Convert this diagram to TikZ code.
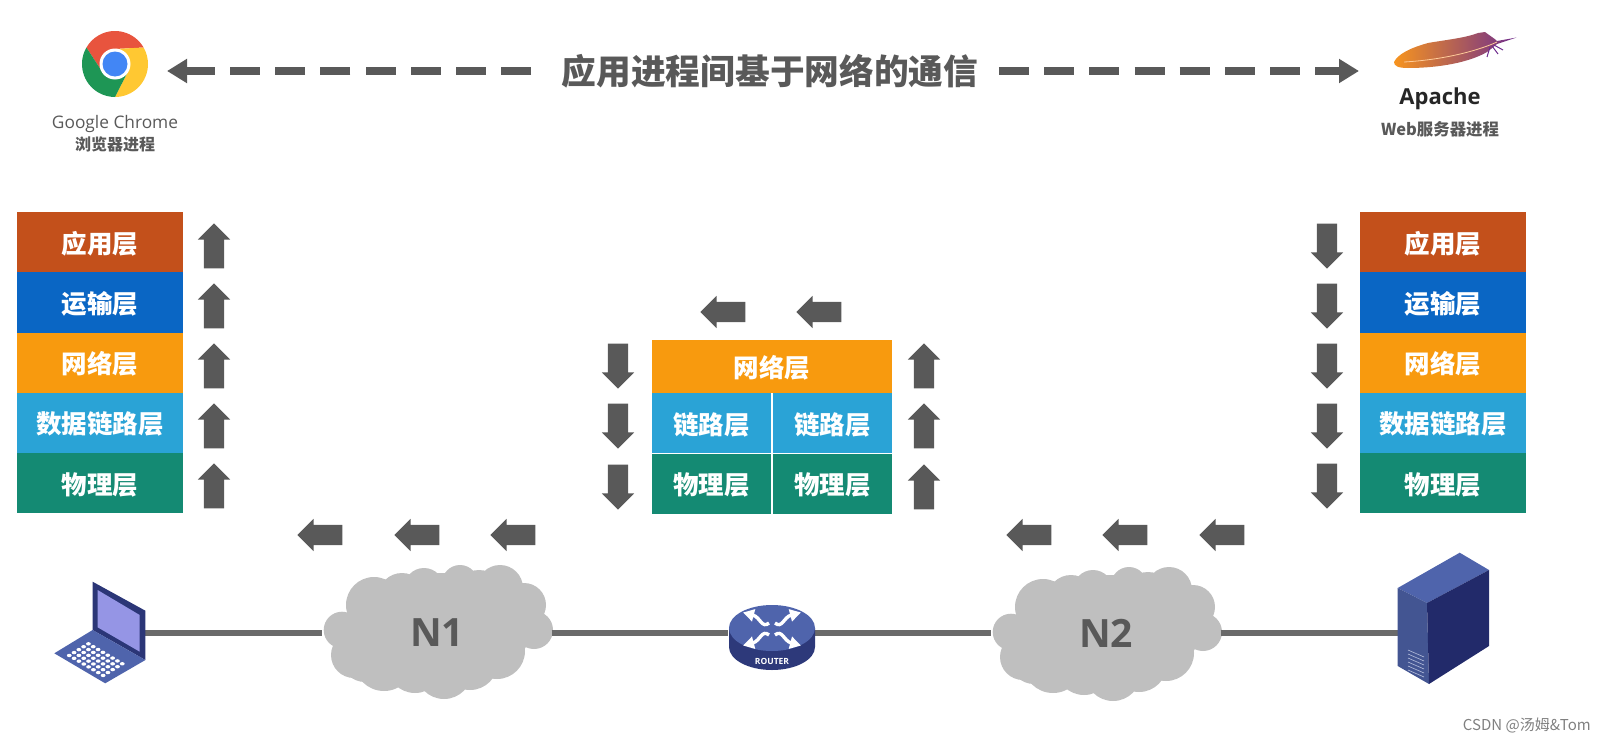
\documentclass[tikz,border=0pt]{standalone}
\usepackage{fontspec}
\usepackage{tikz}
\usetikzlibrary{shapes, shapes.arrows, arrows.meta, positioning, calc, matrix}
\setsansfont{Open Sans}
\newfontfamily\cjk{Noto Sans CJK SC}
\definecolor{apporange}{RGB}{195, 80, 27}
\definecolor{transblue}{RGB}{10, 102, 196}
\definecolor{netorange}{RGB}{248, 154, 14}
\definecolor{linkblue}{RGB}{42, 163, 214}
\definecolor{phyteal}{RGB}{20, 138, 115}
\definecolor{arrowgray}{RGB}{89, 89, 89}
\definecolor{cloudgray}{RGB}{191, 191, 191}
\definecolor{iconblue}{RGB}{79, 100, 172}
\definecolor{icondark}{RGB}{34, 42, 106}
\definecolor{chromered}{RGB}{232, 84, 62}
\definecolor{chromeyellow}{RGB}{255, 200, 50}
\definecolor{chromegreen}{RGB}{30, 150, 85}
\definecolor{chromeblue}{RGB}{66, 134, 245}
\definecolor{featherorange}{RGB}{247, 148, 30}
\definecolor{featherred}{RGB}{216, 48, 58}
\definecolor{featherpurple}{RGB}{110, 44, 142}
\tikzset{
  cellfont/.style={font=\cjk\bfseries\fontsize{25.5}{25.5}\selectfont, text=white, inner sep=0pt, text height=22pt, text depth=0pt},
  appcell/.style={rectangle, fill=apporange, minimum width=166pt, minimum height=60.2pt, cellfont},
  transcell/.style={appcell, fill=transblue},
  netcell/.style={appcell, fill=netorange},
  linkcell/.style={appcell, fill=linkblue},
  phycell/.style={appcell, fill=phyteal},
  blockbase/.style={single arrow, fill=arrowgray, minimum height=45pt, inner sep=10pt, single arrow head extend=6pt},
  upblock/.style={blockbase, shape border rotate=90, yshift=-5pt},
  downblock/.style={blockbase, shape border rotate=270, yshift=5pt},
  leftblock/.style={blockbase, shape border rotate=180, xshift=5pt},
  dasharrow/.style={line width=8pt, arrowgray, dash pattern=on 30pt off 15.2pt, -{Triangle[length=20pt, width=23pt]}},
  wire/.style={line width=5.5pt, draw=arrowgray!90},
  netcloud/.style={rectangle, minimum width=229pt, minimum height=135pt, inner sep=0pt, text=arrowgray, font=\sffamily\bfseries\fontsize{39}{39}\selectfont},
  iconbox/.style={rectangle, minimum width=90pt, minimum height=100pt, inner sep=0pt},
  smalltext/.style={text=arrowgray, inner sep=0pt, font=\cjk\bfseries\fontsize{16}{16}\selectfont},
  cloudblob/.pic={
    \fill[cloudgray] (0,-2) circle[x radius=93, y radius=57];
    \foreach \cx/\cy/\cr in {-95/-2/18.3, -63/-27/28, -35/-35/24, -13/-44/20, 23/-49/18, 42/-38/24, 63/-44/23, 87/-27/22, 97/-2/19, 60/19/28, 7/39/28, 33/30/28, -53/29/30, -22/33/28, -72/26/24, -83/23/23}
      \fill[cloudgray] (\cx,\cy) circle[radius=\cr];
  }
}
\begin{document}
\begin{tikzpicture}[x=1pt, y=-1pt]
    \useasboundingbox (0,0) rectangle (1606,744);
    % Title and the two dashed arrows
    \node[inner xsep=30.5pt, inner ysep=0pt, text=arrowgray, font=\cjk\bfseries\fontsize{34.7}{34.7}\selectfont] (title) at (770,71) {应用进程间基于网络的通信};
    \coordinate (chromeend) at (167,71);
    \coordinate (apacheend) at (1359,71);
    \draw[dasharrow] (title.west) -- (chromeend);
    \draw[dasharrow, shorten <=-10pt] (title.east) -- (apacheend);
    % Chrome logo
    \begin{scope}[shift={(115,64)}, yscale=-1]
        \fill[chromered] (30:33) arc[start angle=30, end angle=150, radius=33] -- (210:15) -- (90:15) -- cycle;
        \fill[chromeyellow] (270:33) arc[start angle=270, end angle=390, radius=33] -- (90:15) -- (330:15) -- cycle;
        \fill[chromegreen] (150:33) arc[start angle=150, end angle=270, radius=33] -- (330:15) -- (210:15) -- cycle;
        \fill[white] (0,0) circle[radius=15.5];
        \fill[chromeblue] (0,0) circle[radius=12.5];
    \end{scope}
    \node[smalltext, font=\sffamily\fontsize{17.3}{17.3}\selectfont] (chromename) at (115,124) {Google Chrome};
    \node[smalltext] (chromeproc) at (115,144) {浏览器进程};
    % Apache feather
    \shade[left color=featherorange, middle color=featherred, right color=featherpurple]
        (1394,62) .. controls (1398,54) and (1410,48) .. (1428,43) .. controls (1445,40) and (1465,38) .. (1478,33)
        -- (1485,32) .. controls (1490,36) and (1494,38) .. (1497,41) -- (1516.7,37.5) -- (1497,44)
        .. controls (1492,48) and (1490,50) .. (1487,52) .. controls (1470,62) and (1440,68) .. (1408,68)
        .. controls (1398,68) and (1394,66) .. (1394,62) -- cycle;
    \draw[white!60!orange, line width=0.8pt] (1404,62) .. controls (1440,60) and (1475,52) .. (1497,42);
    \draw[featherpurple, line width=1pt] (1490,47) -- (1487,57) (1494,45) -- (1503,50) (1492,46) -- (1498,54);
    \node[text=black!85, inner sep=0pt, font=\sffamily\bfseries\fontsize{22}{22}\selectfont] (apachename) at (1440,99) {Apache};
    \node[smalltext, font=\cjk\bfseries\fontsize{16.4}{16.4}\selectfont] (apacheproc) at (1440,129) {Web服务器进程};
    % Left and right protocol stacks
    \matrix[matrix of nodes, anchor=north west, row sep=0pt, inner sep=0pt] (L) at (17,212) {
        |[appcell]| 应用层 \\
        |[transcell]| 运输层 \\
        |[netcell]| 网络层 \\
        |[linkcell]| 数据链路层 \\
        |[phycell]| 物理层 \\
    };
    \matrix[matrix of nodes, anchor=north west, row sep=0pt, inner sep=0pt] (R) at (1360,212) {
        |[appcell]| 应用层 \\
        |[transcell]| 运输层 \\
        |[netcell]| 网络层 \\
        |[linkcell]| 数据链路层 \\
        |[phycell]| 物理层 \\
    };
    % Router stack
    \node[netcell, minimum width=240pt, minimum height=53pt, anchor=north west] (mnet) at (652,340) {网络层};
    \node[linkcell, minimum width=118.5pt, anchor=north west] (mlinkl) at (652,393) {链路层};
    \node[linkcell, minimum width=118.5pt, anchor=north east] (mlinkr) at (892,393) {链路层};
    \node[phycell, minimum width=118.5pt, below=0pt of mlinkl] (mphyl) {物理层};
    \node[phycell, minimum width=118.5pt, below=0pt of mlinkr] (mphyr) {物理层};
    % Block arrows
    \foreach \y [count=\i] in {246,306,366,426,486} {
        \node[upblock] (lup\i) at (214,\y) {};
        \node[downblock] (rdown\i) at (1327,\y) {};
    }
    \foreach \y [count=\i] in {366,426,487} {
        \node[downblock] (mdown\i) at (618,\y) {};
        \node[upblock] (mup\i) at (924,\y) {};
    }
    \foreach \x [count=\i] in {723,819} \node[leftblock] (mleft\i) at (\x,312) {};
    \foreach \x [count=\i] in {320,417,513,1029,1125,1222} \node[leftblock] (bleft\i) at (\x,535) {};
    % Network line
    \pic at (437,632) {cloudblob};
    \pic at (1106,634) {cloudblob};
    \node[iconbox] (laptop) at (100,633) {};
    \node[netcloud] (N1) at (437,633) {N1};
    \node[iconbox, minimum width=86pt, minimum height=64pt] (router) at (771,633) {};
    \node[netcloud] (N2) at (1106,633) {N2};
    \node[iconbox] (server) at (1443,633) {};
    \draw[wire] (laptop) -- (N1);
    \draw[wire] (N1) -- (router);
    \draw[wire] (router) -- (N2);
    \draw[wire] (N2) -- (server);
    % Laptop
    \fill[icondark!80!iconblue] (92.6,581.7) -- (145.4,610.7) -- (145.4,660) -- (92.6,630) -- cycle;
    \fill[blue!35!white!90!black] (97.6,590) -- (139.7,615) -- (139.7,651.7) -- (97.6,627.3) -- cycle;
    \fill[iconblue] (92.6,630) -- (145.4,660) -- (105.2,683.3) -- (54.3,653.3) -- cycle;
    \foreach \i in {1,...,8} \foreach \j in {1,...,5}
        \fill[white] ($(54.3,653.3)+{0.09+\i*0.095}*(50.9,30)+{0.02+\j*0.125}*(38.3,-23.3)$) circle[x radius=2.4, y radius=1.7];
    % Router
    \fill[icondark!75!iconblue] (729,628) -- (729,647) arc[start angle=180, end angle=0, x radius=43, y radius=23] -- (815,628) -- cycle;
    \fill[iconblue] (772,628) circle[x radius=43, y radius=23];
    \foreach \sx/\sy in {1/1,-1/1,1/-1,-1/-1}
        \draw[white, line width=3.4pt, -{Triangle[length=11pt, width=12pt]}] ($(772,629)+(3*\sx,6*\sy)$) .. controls ($(772,629)+(10*\sx,0*\sy)$) and ($(772,629)+(12*\sx,12*\sy)$) .. ($(772,629)+(29*\sx,16.5*\sy)$);
    \node[text=white, inner sep=0pt, font=\sffamily\bfseries\fontsize{8.5}{8.5}\selectfont] (routername) at (772,661) {ROUTER};
    % Server
    \fill[iconblue] (1459.7,552.7) -- (1489,570) -- (1427,603) -- (1397.7,588) -- cycle;
    \fill[iconblue!85!black] (1397.7,588) -- (1427,603) -- (1429,684) -- (1397.7,666) -- cycle;
    \fill[icondark] (1427,603) -- (1489,570) -- (1489,646) -- (1429,684) -- cycle;
    \foreach \y in {650,654,...,670}
        \draw[white!60!iconblue, line width=0.6pt] (1408,\y) -- (1424,\y+7);
    % Watermark
    \node[text=gray, inner sep=0pt, anchor=east, font=\cjk\fontsize{15}{15}\selectfont] (mark) at (1591,725) {CSDN @汤姆\&Tom};
\end{tikzpicture}
\end{document}
